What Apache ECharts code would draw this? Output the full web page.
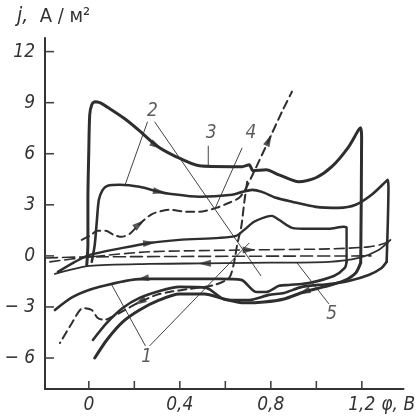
<!DOCTYPE html>
<html><head><meta charset="utf-8">
<script src="https://cdn.jsdelivr.net/npm/echarts@6/dist/echarts.min.js"></script>
<style>html,body{margin:0;padding:0;background:#fff}#c{width:418px;height:420px}</style>
</head><body><div id="c"></div><script>
// ---- axis ticks / labels ----
const xTicks = [0, 0.2, 0.4, 0.6, 0.8, 1.0, 1.2];
const xLabels = [0, 0.4, 0.8, 1.2];
const yTicks = [-6, -3, 0, 3, 6, 9, 12];

// ---- curves (φ, V ; j, A/m²) ----
const c3Anodic = [[-0.009,-0.53],[-0.004,0.65],[-0.004,3.29],[0,6.24],[0.004,8.29],[0.013,8.88],[0.026,9.06],[0.048,9.0],[0.092,8.65],[0.158,8.06],[0.223,7.35],[0.298,6.47],[0.376,5.88],[0.486,5.29],[0.63,5.24],[0.674,5.24],[0.705,5.35],[0.722,5.0],[0.779,5.06],[0.836,4.76],[0.923,4.35],[0.998,4.59],[1.068,5.24],[1.142,6.41],[1.186,7.41],[1.195,7.53],[1.199,7.0],[1.195,-0.41]];
const c3Cathodic = [[1.195,-0.41],[1.173,-1.0],[1.12,-1.47],[1.033,-1.82],[0.945,-2.12],[0.858,-2.53],[0.77,-2.71],[0.683,-2.76],[0.595,-2.53],[0.508,-2.24],[0.398,-2.24],[0.311,-2.59],[0.223,-3.18],[0.149,-3.88],[0.079,-4.94],[0.026,-6.0]];
const c2Anodic = [[0.013,-0.35],[0.026,0.65],[0.035,2.0],[0.044,3.29],[0.061,3.88],[0.083,4.12],[0.136,4.18],[0.223,4.06],[0.311,3.76],[0.354,3.65],[0.486,3.47],[0.63,3.59],[0.674,3.76],[0.718,3.88],[0.761,3.76],[0.823,3.41],[0.893,3.18],[0.998,2.88],[1.098,2.82],[1.173,3.0],[1.243,3.59],[1.304,4.35],[1.313,4.47],[1.317,4.06],[1.309,-0.35]];
const c2Cathodic = [[1.309,-0.35],[1.287,-0.71],[1.23,-1.12],[1.142,-1.47],[1.055,-1.65],[0.937,-1.82],[0.858,-2.18],[0.792,-2.29],[0.705,-2.59],[0.604,-2.59],[0.516,-1.88],[0.398,-1.82],[0.311,-2.06],[0.223,-2.47],[0.149,-3.06],[0.079,-3.94],[0.018,-4.94]];
const c1Anodic = [[-0.136,-0.94],[-0.061,-0.35],[0.004,0.06],[0.149,0.47],[0.267,0.76],[0.398,0.94],[0.573,1.06],[0.648,1.18],[0.683,1.53],[0.726,2.0],[0.779,2.29],[0.805,2.35],[0.836,2.12],[0.893,1.65],[0.967,1.59],[1.055,1.59],[1.12,1.71],[1.133,1.65],[1.133,-0.35]];
const c1Cathodic = [[1.133,-0.35],[1.125,-0.71],[1.077,-1.18],[0.967,-1.59],[0.88,-1.71],[0.836,-1.76],[0.779,-2.12],[0.735,-2.12],[0.67,-1.41],[0.573,-1.35],[0.398,-1.35],[0.236,-1.35],[0.048,-1.82],[-0.07,-2.41],[-0.149,-3.18]];
const c4Anodic = [[-0.031,0.94],[0.004,1.18],[0.039,1.47],[0.074,1.47],[0.109,1.24],[0.144,1.12],[0.179,1.29],[0.223,1.88],[0.28,2.47],[0.354,2.71],[0.429,2.59],[0.486,2.59],[0.56,2.82],[0.617,3.12],[0.661,3.41],[0.687,3.88],[0.726,4.94],[0.792,6.82],[0.849,8.47],[0.893,9.65]];
const c4Cathodic = [[0.696,4.35],[0.683,3.12],[0.67,1.71],[0.652,0.65],[0.639,-0.35],[0.617,-1.29],[0.551,-1.71],[0.442,-1.94],[0.354,-2.12],[0.298,-2.29],[0.223,-2.71],[0.136,-3.35],[0.101,-3.59],[0.07,-3.76],[0.039,-3.65],[0.013,-3.18],[-0.026,-3.06],[-0.074,-3.94],[-0.127,-5.12]];
const c5Anodic = [[-0.171,-0.35],[0.004,-0.06],[0.267,0.24],[0.705,0.35],[1.055,0.41],[1.23,0.53],[1.295,0.71],[1.326,0.94]];
const c5Cathodic = [[1.326,0.94],[1.274,0.35],[1.186,-0.12],[1.055,-0.35],[0.705,-0.41],[0.508,-0.44],[0.267,-0.47],[0.004,-0.59],[-0.149,-1.06]];
const zeroTrace = [[-0.19,-0.12],[0.0,-0.06],[0.7,-0.02],[1.24,0.0]];

// arrows: [curve key, vertex index]  (points toward the next vertex)
const arrows = [['c3Anodic',11],['c2Anodic',8],['c1Anodic',4],['c4Anodic',7],['c4Anodic',17],
                ['c1Cathodic',11],['c3Cathodic',4],['c4Cathodic',10],['c5Anodic',3],['c5Cathodic',5]];

// curve numbers and leader lines
const curveNames = [['1',0.254,-5.94],['2',0.28,8.53],['3',0.538,7.24],['4',0.713,7.24],['5',1.068,-3.41]];
const leaders = [
  [[0.258,7.88],[0.158,4.12]],
  [[0.289,7.88],[0.757,-1.18]],
  [[0.525,6.47],[0.525,5.29]],
  [[0.674,6.35],[0.556,2.82]],
  [[0.249,-5.29],[0.101,-1.71]],
  [[0.267,-5.29],[0.705,0.76]],
  [[1.055,-2.82],[0.915,-0.41]]
];

const X_MIN = -0.1926, X_MAX = 1.383, Y_MIN = -7.82, Y_MAX = 12.8;
const curves = {c3Anodic,c3Cathodic,c2Anodic,c2Cathodic,c1Anodic,c1Cathodic,c4Anodic,c4Cathodic,c5Anodic,c5Cathodic,zeroTrace};
const styleOf = {
  c3Anodic:{w:3,t:'solid'}, c3Cathodic:{w:3,t:'solid'},
  c2Anodic:{w:2.6,t:'solid'}, c2Cathodic:{w:2.6,t:'solid'},
  c1Anodic:{w:2.4,t:'solid'}, c1Cathodic:{w:2.6,t:'solid'},
  c4Anodic:{w:2,t:[8,5]}, c4Cathodic:{w:2,t:[8,5]},
  c5Anodic:{w:1.6,t:[10,5]}, c5Cathodic:{w:1.8,t:'solid'},
  zeroTrace:{w:1.6,t:[12,5]}
};
const INK = '#2e2e2e';
const FONT = "'DejaVu Sans Condensed','Liberation Sans',sans-serif";

const chart = echarts.init(document.getElementById('c'), null, {renderer:'canvas'});

function baseSeries(){
  const s = [];
  for (const k in curves) {
    s.push({type:'line', name:k, data:curves[k], symbol:'none', smooth:0.25, silent:true, z:3,
      lineStyle:{color:INK, width:styleOf[k].w, type:styleOf[k].t, cap:'round', join:'round'}});
  }
  leaders.forEach((l,i)=>s.push({type:'line', name:'leader'+i, data:l, symbol:'none', silent:true, z:2,
      lineStyle:{color:'#444', width:1}}));
  s.push({type:'scatter', name:'names', silent:true, symbolSize:1, itemStyle:{color:'rgba(0,0,0,0)'},
    data: curveNames.map(n=>({value:[n[1],n[2]], name:n[0]})),
    label:{show:true, position:'inside', formatter:p=>p.name, color:'#333', fontSize:19, fontStyle:'italic', fontFamily:FONT}});
  // inward tick marks, placed through the axis scales
  s.push({type:'custom', name:'ticks', silent:true, clip:false, z:5,
    data: xTicks.map(v=>[v,0]).concat(yTicks.map(v=>[v,1])),
    renderItem:(params, api)=>{
      const v = api.value(0), isY = api.value(1) === 1;
      const p = isY ? api.coord([X_MIN, v]) : api.coord([v, Y_MIN]);
      const q = isY ? [p[0]+9, p[1]] : [p[0], p[1]-8];
      return {type:'line', shape:{x1:p[0], y1:p[1], x2:q[0], y2:q[1]}, style:{stroke:'#444', lineWidth:1.6}};
    }});
  return s;
}

const option = {
  backgroundColor:'#ffffff',
  animation:false,
  title:{text:'{i|j,}  A / м²', left:12, top:1,
    textStyle:{color:'#333', fontSize:20, fontWeight:'normal', fontFamily:FONT,
      rich:{i:{fontSize:21, fontStyle:'italic', fontFamily:FONT, color:'#333'}}}},
  grid:{left:45, right:13, top:38, bottom:31, containLabel:false},
  xAxis:{type:'value', min:X_MIN, max:X_MAX,
    name:'φ, В', nameLocation:'end', nameGap:-24,
    nameTextStyle:{color:'#333', fontSize:19, fontStyle:'italic', fontFamily:FONT, verticalAlign:'top', padding:[7,0,0,0]},
    axisLine:{show:true, onZero:false, lineStyle:{color:'#333', width:2}},
    axisTick:{show:false},
    axisLabel:{show:true, customValues:xLabels, margin:7, color:'#333', fontSize:19, fontStyle:'italic', fontFamily:FONT,
      formatter:v=>String(Math.round(v*10)/10).replace('.',',')},
    splitLine:{show:false}},
  yAxis:{type:'value', min:Y_MIN, max:Y_MAX,
    axisLine:{show:true, onZero:false, lineStyle:{color:'#333', width:2}},
    axisTick:{show:false},
    axisLabel:{show:true, customValues:yTicks, margin:10, color:'#333', fontSize:19, fontStyle:'italic', fontFamily:FONT,
      formatter:v=>v<0?'− '+(-v):String(v)},
    splitLine:{show:false}},
  series: baseSeries()
};
chart.setOption(option);

// arrowheads oriented along the curves
const arrowData = arrows.map(([k,i])=>{
  const d = curves[k];
  const p = chart.convertToPixel({gridIndex:0}, d[i]);
  const q = chart.convertToPixel({gridIndex:0}, d[i+1]);
  const ang = Math.atan2(-(q[1]-p[1]), q[0]-p[0])*180/Math.PI;
  return {value:d[i], symbolRotate: ang-90};
});
const s = baseSeries();
s.push({type:'scatter', name:'arrows', silent:true, z:4, symbol:'triangle', symbolSize:[7,13],
  itemStyle:{color:INK}, data:arrowData});
chart.setOption({series:s}, {replaceMerge:['series']});
</script></body></html>
